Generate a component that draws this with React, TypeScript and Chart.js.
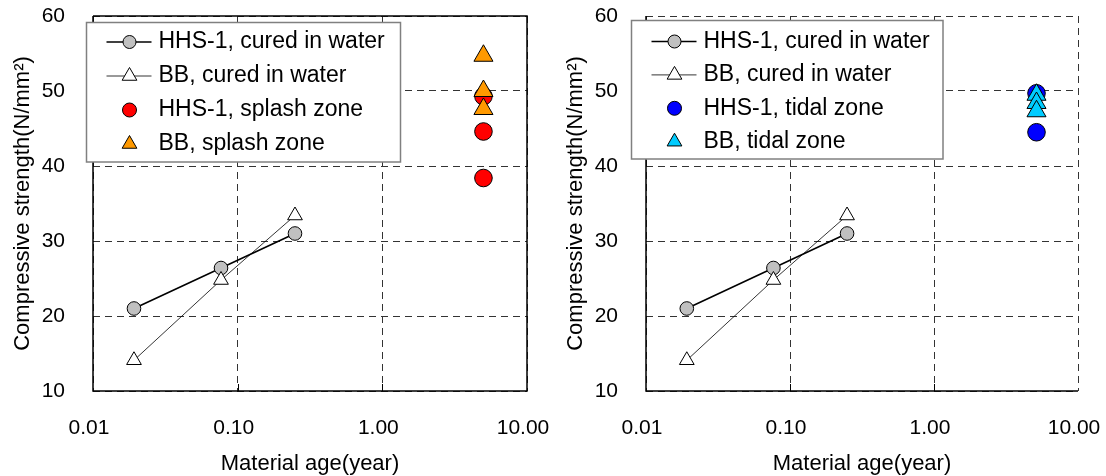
import React, { useEffect, useRef } from 'react';
import { Chart, registerables } from 'chart.js';
import { drawPoint } from 'chart.js/helpers';

Chart.register(...registerables);

// ---------------- data ----------------
const curedAges = [0.0192, 0.0767, 0.249];
const hhsCuredStrength = [21.0, 26.4, 31.0];
const bbCuredStrength = [14.1, 24.8, 33.4];

const splashAges = [5.0, 5.0, 5.0];
const hhsSplashStrength = [49.3, 44.6, 38.4];
const bbSplashStrength = [54.7, 50.0, 47.6];

const tidalAgesHHS = [5.15, 5.15];
const hhsTidalStrength = [49.7, 44.5];
const tidalAgesBB = [5.15, 5.15, 5.15];
const bbTidalStrength = [49.5, 48.4, 47.3];

const xTickValues = [0.01, 0.1, 1, 10];
const yTickValues = [10, 20, 30, 40, 50, 60];

const labelsLeft = ['HHS-1, cured in water', 'BB, cured in water', 'HHS-1, splash zone', 'BB, splash zone'];
const labelsRight = ['HHS-1, cured in water', 'BB, cured in water', 'HHS-1, tidal zone', 'BB, tidal zone'];

const xTitle = 'Material age(year)';
const yTitle = 'Compressive strength(N/mm²)';

// ---------------- helpers ----------------
const FONT = '"Liberation Sans", Arial, sans-serif';

const pts = (xs: number[], ys: number[]) => xs.map((x, i) => ({ x, y: ys[i] }));

const legendPlugin = {
  id: 'boxLegend',
  afterDraw(chart: any, _args: any, opts: any) {
    const ctx = chart.ctx as CanvasRenderingContext2D;
    const { x, y, w, h, firstRow, rowGap, lineX0, lineX1, markX, textX, fontSize } = opts;
    ctx.save();
    ctx.fillStyle = '#ffffff';
    ctx.fillRect(x, y, w, h);
    ctx.lineWidth = 1.5;
    ctx.strokeStyle = '#808080';
    ctx.strokeRect(x, y, w, h);
    chart.data.datasets.forEach((ds: any, i: number) => {
      const cy = y + firstRow + i * rowGap;
      if (ds.showLine) {
        ctx.beginPath();
        ctx.lineWidth = ds.borderWidth;
        ctx.strokeStyle = ds.borderColor;
        ctx.moveTo(x + lineX0, cy);
        ctx.lineTo(x + lineX1, cy);
        ctx.stroke();
      }
      ctx.fillStyle = ds.pointBackgroundColor;
      ctx.strokeStyle = ds.pointBorderColor;
      ctx.lineWidth = ds.pointBorderWidth;
      drawPoint(ctx, { pointStyle: ds.pointStyle, radius: ds.legendRadius, borderWidth: ds.pointBorderWidth, rotation: 0 } as any, x + markX, cy);
      ctx.fillStyle = '#000000';
      ctx.font = `${fontSize}px ${FONT}`;
      ctx.textBaseline = 'middle';
      ctx.textAlign = 'left';
      ctx.fillText(ds.label, x + textX, cy);
    });
    ctx.restore();
  },
};

const framePlugin = {
  id: 'frame',
  beforeDatasetsDraw(chart: any, _args: any, opts: any) {
    const ctx = chart.ctx as CanvasRenderingContext2D;
    const { left, right, top, bottom } = chart.chartArea;
    const xs = chart.scales.x;
    ctx.save();
    ctx.strokeStyle = '#000000';
    ctx.lineWidth = 1.5;
    ctx.setLineDash([]);
    ctx.beginPath();
    ctx.moveTo(left, top);
    ctx.lineTo(left, bottom);
    ctx.lineTo(right, bottom);
    if (opts.full) {
      ctx.lineTo(right, top);
      ctx.lineTo(left, top);
    }
    ctx.stroke();
    // inward tick marks on the x axis
    ctx.lineWidth = 1;
    xTickValues.slice(1, -1).forEach((v) => {
      const px = Math.round(xs.getPixelForValue(v)) + 0.5;
      ctx.beginPath();
      ctx.moveTo(px, bottom);
      ctx.lineTo(px, bottom - 7);
      ctx.stroke();
    });
    ctx.restore();
  },
};

function makeDatasets(labels: string[], zoneX1: number[], zoneY1: number[], zoneX2: number[], zoneY2: number[], zoneColor1: string, zoneColor2: string) {
  return [
    {
      label: labels[0],
      data: pts(curedAges, hhsCuredStrength),
      showLine: true,
      borderColor: '#000000',
      borderWidth: 1.6,
      pointStyle: 'circle',
      pointRadius: 6.8,
      legendRadius: 6.5,
      pointBackgroundColor: '#c0c0c0',
      pointBorderColor: '#000000',
      pointBorderWidth: 1,
      order: 4,
    },
    {
      label: labels[1],
      data: pts(curedAges, bbCuredStrength),
      showLine: true,
      borderColor: '#000000',
      borderWidth: 0.8,
      pointStyle: 'triangle',
      pointRadius: 8.5,
      legendRadius: 8.5,
      pointBackgroundColor: '#ffffff',
      pointBorderColor: '#000000',
      pointBorderWidth: 1,
      order: 3,
    },
    {
      label: labels[2],
      data: pts(zoneX1, zoneY1),
      showLine: false,
      borderColor: '#000000',
      borderWidth: 1,
      pointStyle: 'circle',
      pointRadius: 8.8,
      legendRadius: 7,
      pointBackgroundColor: zoneColor1,
      pointBorderColor: '#000000',
      pointBorderWidth: 1,
      order: 2,
    },
    {
      label: labels[3],
      data: pts(zoneX2, zoneY2),
      showLine: false,
      borderColor: '#000000',
      borderWidth: 1,
      pointStyle: 'triangle',
      pointRadius: 11,
      legendRadius: 8.5,
      pointBackgroundColor: zoneColor2,
      pointBorderColor: '#000000',
      pointBorderWidth: 1,
      order: 1,
    },
  ];
}

function makeConfig(datasets: any[], legendBox: any, full: boolean, padRight: number): any {
  return {
    type: 'scatter',
    data: { datasets },
    plugins: [framePlugin, legendPlugin],
    options: {
      responsive: false,
      animation: false,
      layout: { padding: { top: 16, right: padRight, left: 0, bottom: 0 } },
      plugins: {
        legend: { display: false },
        tooltip: { enabled: false },
        boxLegend: legendBox,
        frame: { full },
      },
      scales: {
        x: {
          type: 'logarithmic',
          min: 0.01,
          max: 10,
          afterBuildTicks: (s: any) => {
            s.ticks = xTickValues.map((v) => ({ value: v }));
          },
          afterFit: (s: any) => {
            s.height = 85;
            s.paddingLeft = 0;
            s.paddingRight = 0;
          },
          ticks: {
            callback: (v: any) => Number(v).toFixed(2),
            font: { family: FONT, size: 21 },
            color: '#000000',
            padding: 25,
            labelOffset: -4,
            maxRotation: 0,
            autoSkip: false,
          },
          grid: { color: '#333333', lineWidth: 1, drawTicks: false },
          border: { display: false, dash: [7, 5] },
          title: {
            display: true,
            text: xTitle,
            font: { family: FONT, size: 22, lineHeight: 1 },
            color: '#000000',
            padding: { top: 0, bottom: 1 },
          },
        },
        y: {
          type: 'linear',
          min: 10,
          max: 60,
          afterBuildTicks: (s: any) => {
            s.ticks = yTickValues.map((v) => ({ value: v }));
          },
          afterFit: (s: any) => {
            s.width = 93;
            s.paddingTop = 0;
            s.paddingBottom = 0;
          },
          ticks: {
            font: { family: FONT, size: 21 },
            color: '#000000',
            padding: 28,
          },
          grid: { color: '#333333', lineWidth: 1, drawTicks: false },
          border: { display: false, dash: [7, 5] },
          title: {
            display: true,
            text: yTitle,
            font: { family: FONT, size: 22, lineHeight: 1.2 },
            color: '#000000',
            padding: { top: 10, bottom: 0 },
          },
        },
      },
    },
  };
}

function ChartCanvas({ config }: { config: any }) {
  const ref = useRef<HTMLCanvasElement>(null);
  useEffect(() => {
    if (!ref.current) return;
    const chart = new Chart(ref.current, config);
    return () => chart.destroy();
  }, [config]);
  return <canvas ref={ref} width={553} height={476} style={{ display: 'block', width: 553, height: 476 }} />;
}

const leftConfig = makeConfig(
  makeDatasets(labelsLeft, splashAges, hhsSplashStrength, splashAges, bbSplashStrength, '#ff0000', '#ff9900'),
  { x: 86.5, y: 22.5, w: 314, h: 139.5, firstRow: 19.5, rowGap: 34, lineX0: 20, lineX1: 65, markX: 43, textX: 72, fontSize: 23 },
  true,
  26,
);

const rightConfig = makeConfig(
  makeDatasets(labelsRight, tidalAgesHHS, hhsTidalStrength, tidalAgesBB, bbTidalStrength, '#0000ff', '#00ccff'),
  { x: 78.5, y: 20.5, w: 311.5, h: 138.5, firstRow: 21, rowGap: 33.4, lineX0: 20, lineX1: 65, markX: 43, textX: 72, fontSize: 23 },
  false,
  28,
);

export default function App() {
  return (
    <div style={{ position: 'absolute', left: 0, top: 0, width: 1106, height: 476, display: 'flex', background: '#ffffff' }}>
      <ChartCanvas config={leftConfig} />
      <ChartCanvas config={rightConfig} />
    </div>
  );
}
